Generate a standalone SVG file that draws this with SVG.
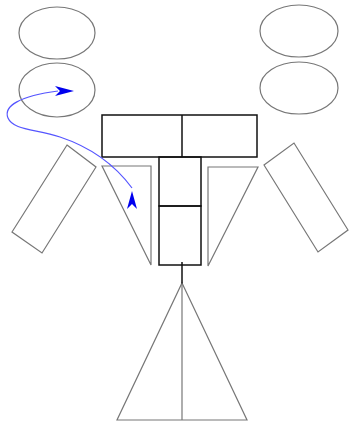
<svg xmlns="http://www.w3.org/2000/svg" width="349" height="423" viewBox="0 0 349 423">
<style>
.g{fill:none;stroke:#777;stroke-width:1.2}
.k{fill:none;stroke:#111;stroke-width:1.5}
.b{fill:none;stroke:#5555ff;stroke-width:1.2}
.ah{fill:#0000ee;stroke:none}
</style>
<rect width="349" height="423" fill="#fff"/>
<g id="ellipse-tl"><ellipse class="g" cx="57" cy="33" rx="38" ry="26"/></g>
<g id="ellipse-ml"><ellipse class="g" cx="57" cy="90" rx="38" ry="27"/></g>
<g id="ellipse-tr"><ellipse class="g" cx="299" cy="31" rx="39" ry="26"/></g>
<g id="ellipse-mr"><ellipse class="g" cx="299" cy="88" rx="39" ry="26"/></g>
<g id="top-bar">
<rect class="k" x="102" y="115" width="155" height="42"/>
<line class="k" x1="182" y1="115" x2="182" y2="157"/>
</g>
<g id="stem">
<rect class="k" x="159" y="157" width="42" height="49"/>
<rect class="k" x="159" y="206" width="42" height="59"/>
</g>
<g id="left-arm"><polygon class="g" points="67,145 96,167 42,253 12,232"/></g>
<g id="right-arm"><polygon class="g" points="264,165 294,143 348,230 318,252"/></g>
<g id="left-tri"><polygon class="g" points="102,166 151,166 151,265"/></g>
<g id="right-tri"><polygon class="g" points="208,167 258,167 208,266"/></g>
<g id="skirt"><polygon class="g" points="182,283 247,420 117,420"/></g>
<g id="connectors">
<line class="k" x1="182" y1="262" x2="182" y2="284"/>
<line class="g" x1="182" y1="283" x2="182" y2="420"/>
<path class="b" d="M 58 91 C 20 96, 3 106, 8 118 C 13 130, 35 129, 60 137 C 90 147, 115 165, 132 188"/>
<polygon class="ah" points="74,91 55,86 60,91 55,96"/>
<polygon class="ah" points="132,191 137,209 132,204 127,209"/>
</g>
</svg>
